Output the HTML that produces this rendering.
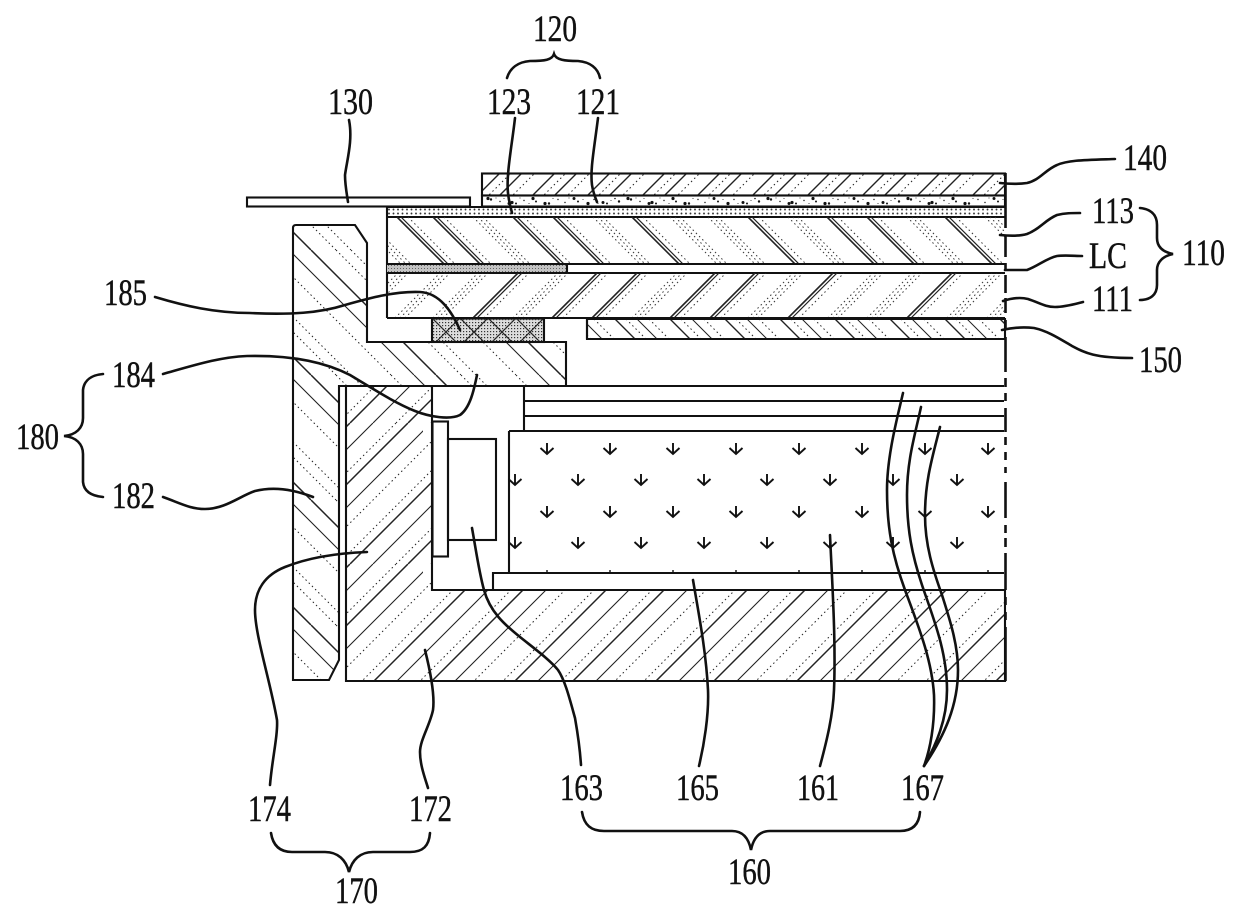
<!DOCTYPE html>
<html>
<head>
<meta charset="utf-8">
<style>
html,body{margin:0;padding:0;background:#fff}
svg{display:block}
text{font-family:"Liberation Serif",serif;font-size:37px;fill:#111;stroke:#111;stroke-width:.45}
.o{fill:none;stroke:#111;stroke-width:2.1}
.l{fill:none;stroke:#111;stroke-width:2.6;stroke-linecap:round}
</style>
</head>
<body>
<svg width="1240" height="916" viewBox="0 0 1240 916" xmlns="http://www.w3.org/2000/svg">
<defs>
  <pattern id="p140" patternUnits="userSpaceOnUse" width="55" height="55" patternTransform="translate(3 0)">
    <g fill="none" stroke="#222">
      <path d="M10 0L-45 55M65 0L10 55" stroke-width="1.4"/>
      <path d="M32 0L-23 55M87 0L32 55" stroke-width="1.4"/>
      <path d="M21 0L-34 55M76 0L21 55" stroke-width="1" stroke-dasharray="1.5 3"/>
      <path d="M45 0L-10 55M100 0L45 55" stroke-width="1" stroke-dasharray="1.5 3"/>
    </g>
  </pattern>
  <pattern id="p150" patternUnits="userSpaceOnUse" width="55" height="55" patternTransform="translate(0 319)">
    <g fill="none" stroke="#222">
      <path d="M10 0L65 55M-45 0L10 55" stroke-width="1.4"/>
      <path d="M32 0L87 55M-23 0L32 55" stroke-width="1"/>
      <path d="M21 0L76 55M-34 0L21 55" stroke-width="1" stroke-dasharray="1.5 3"/>
      <path d="M44 0L99 55M-11 0L44 55" stroke-width="1" stroke-dasharray="1.5 3"/>
    </g>
  </pattern>
  <pattern id="p182" patternUnits="userSpaceOnUse" width="125" height="125" patternTransform="translate(0 0)">
    <g fill="none" stroke="#222">
      <path d="M61 0L186 125M-64 0L61 125" stroke-width="1.5"/>
      <path d="M39 0L164 125M-86 0L39 125" stroke-width="1.1"/>
      <path d="M86 0L211 125M-39 0L86 125" stroke-width="1" stroke-dasharray="1.5 3"/>
      <path d="M101 0L226 125M-24 0L101 125" stroke-width="1" stroke-dasharray="1.5 3"/>
      <path d="M16 0L141 125M-109 0L16 125" stroke-width="1" stroke-dasharray="1.5 3"/>
    </g>
  </pattern>
  <pattern id="p172" patternUnits="userSpaceOnUse" width="141" height="141">
    <g fill="none" stroke="#222">
      <path d="M68 0L-73 141M209 0L68 141" stroke-width="1.5"/>
      <path d="M91 0L-50 141M232 0L91 141" stroke-width="1.1"/>
      <path d="M56 0L-85 141M197 0L56 141" stroke-width="1" stroke-dasharray="1.5 3"/>
      <path d="M126 0L-15 141M267 0L126 141" stroke-width="1.5"/>
      <path d="M149 0L8 141M290 0L149 141" stroke-width="1.1"/>
      <path d="M114 0L-27 141M255 0L114 141" stroke-width="1" stroke-dasharray="1.5 3"/>
      <path d="M27 0L-114 141M168 0L27 141" stroke-width="1" stroke-dasharray="1.5 3"/>
    </g>
  </pattern>
  <pattern id="p123" patternUnits="userSpaceOnUse" width="4.5" height="4" patternTransform="translate(387 207.5)">
    <circle cx="2" cy="2" r="0.95" fill="#333"/>
  </pattern>
  <pattern id="pLC" patternUnits="userSpaceOnUse" width="3" height="3">
    <rect width="3" height="3" fill="#c4c4c4"/>
    <rect x="1" y="1" width="1" height="1" fill="#666"/>
  </pattern>
  <pattern id="p185" patternUnits="userSpaceOnUse" width="28" height="28" patternTransform="translate(432 318)">
    <rect width="28" height="28" fill="#ddd"/>
    <path d="M0 0L28 28M28 0L0 28" stroke="#222" stroke-width="1.2"/>
  </pattern>
  <pattern id="p185d" patternUnits="userSpaceOnUse" width="3" height="3">
    <rect x="1" y="1" width="1.2" height="1.2" fill="#333"/>
  </pattern>
  <pattern id="p121" patternUnits="userSpaceOnUse" width="140" height="11" patternTransform="translate(482 195.5)">
    <g fill="#111">
      <circle cx="6" cy="3" r="1.6"/><circle cx="9" cy="4" r="1.2"/><circle cx="18" cy="6" r=".7"/>
      <circle cx="27" cy="8" r="1.5"/><circle cx="30" cy="7" r="1.6"/><circle cx="34" cy="8" r="1"/>
      <circle cx="42" cy="5" r=".7"/><circle cx="51" cy="3" r="1.6"/><circle cx="54" cy="6" r="1"/>
      <circle cx="63" cy="8" r="1.6"/><circle cx="67" cy="8" r="1.2"/><circle cx="76" cy="4" r=".7"/>
      <circle cx="83" cy="7" r=".7"/><circle cx="92" cy="3" r="1.5"/><circle cx="96" cy="6" r="1"/>
      <circle cx="106" cy="8" r="1.6"/><circle cx="112" cy="4" r=".7"/><circle cx="121" cy="7" r="1.5"/>
      <circle cx="125" cy="8" r="1"/><circle cx="133" cy="3" r=".8"/><circle cx="137" cy="6" r="1.2"/>
      <circle cx="14" cy="2.5" r=".5"/><circle cx="38" cy="2.5" r=".5"/><circle cx="47" cy="8" r=".5"/>
      <circle cx="71" cy="3" r=".5"/><circle cx="87" cy="2.5" r=".5"/><circle cx="101" cy="4" r=".5"/>
      <circle cx="116" cy="8" r=".5"/><circle cx="129" cy="5" r=".5"/><circle cx="22" cy="3" r=".5"/>
    </g>
  </pattern>
  <clipPath id="c113"><rect x="388" y="217" width="617" height="47"/></clipPath>
  <clipPath id="c111"><rect x="388" y="273" width="617" height="45"/></clipPath>
  <g id="s"><path d="M0 217l47 47" stroke="#222" stroke-width="1.6" fill="none"/><path d="M4 217l47 47" stroke="#222" stroke-width="1.2" fill="none"/><path d="M11 217l47 47" stroke="#333" stroke-width="1" stroke-dasharray="1.5 3" fill="none"/></g>
  <g id="d"><path d="M0 217l47 47M5 217l47 47M10 217l47 47" stroke="#333" stroke-width="1" stroke-dasharray="1.5 3" fill="none"/></g>
  <g id="t"><path d="M0 318l45 -45" stroke="#222" stroke-width="1.6" fill="none"/><path d="M4 318l45 -45" stroke="#222" stroke-width="1.2" fill="none"/><path d="M11 318l45 -45" stroke="#333" stroke-width="1" stroke-dasharray="1.5 3" fill="none"/></g>
  <g id="u"><path d="M0 318l45 -45M5 318l45 -45M10 318l45 -45" stroke="#333" stroke-width="1" stroke-dasharray="1.5 3" fill="none"/></g>
  <g id="a"><path d="M0 -6V5M-6.500 -1L0 5L6.500 -1" fill="none" stroke="#111" stroke-width="1.9"/></g>
</defs>

<rect width="1240" height="916" fill="#fff"/>

<!-- frame 182 / 184 -->
<path d="M296 225H355L367 243V342H566V386H339V660L329 680H293V228Q293 225 296 225Z" fill="url(#p182)" stroke="#111" stroke-width="2.1"/>

<!-- bottom chassis 172 -->
<path d="M346 386H432V590H1005V681H346Z" fill="url(#p172)" stroke="#111" stroke-width="2.1"/>

<!-- optical sheets -->
<path class="o" d="M524 386H1004M524 401H1004M524 416H1004M509 431H1004M524 386V431"/>
<path class="o" d="M432 386H524"/>

<!-- LED -->
<rect class="o" x="432.500" y="421.500" width="15.500" height="135"/>
<rect class="o" x="448" y="439" width="48" height="101"/>

<!-- light guide 161 -->
<path class="o" d="M509 573V431"/>
<g>
  <use href="#a" x="547" y="449"/><use href="#a" x="610" y="449"/><use href="#a" x="673" y="449"/><use href="#a" x="736" y="449"/><use href="#a" x="799" y="449"/><use href="#a" x="862" y="449"/><use href="#a" x="925" y="449"/><use href="#a" x="988" y="449"/>
  <use href="#a" x="515" y="480"/><use href="#a" x="578" y="480"/><use href="#a" x="641" y="480"/><use href="#a" x="704" y="480"/><use href="#a" x="767" y="480"/><use href="#a" x="830" y="480"/><use href="#a" x="893" y="480"/><use href="#a" x="957" y="480"/>
  <use href="#a" x="547" y="512"/><use href="#a" x="610" y="512"/><use href="#a" x="673" y="512"/><use href="#a" x="736" y="512"/><use href="#a" x="799" y="512"/><use href="#a" x="862" y="512"/><use href="#a" x="925" y="512"/><use href="#a" x="988" y="512"/>
  <use href="#a" x="515" y="543"/><use href="#a" x="578" y="543"/><use href="#a" x="641" y="543"/><use href="#a" x="704" y="543"/><use href="#a" x="767" y="543"/><use href="#a" x="830" y="543"/><use href="#a" x="893" y="543"/><use href="#a" x="957" y="543"/>
  <path d="M547 570V573M610 570V573M673 570V573M736 570V573M799 570V573M862 570V573M925 570V573M988 570V573" stroke="#111" stroke-width="1.4"/>
</g>
<path class="o" d="M1004 573H493V590"/>

<!-- panel top layers -->
<rect x="482" y="173.500" width="523" height="22" fill="url(#p140)" stroke="#111" stroke-width="2.1"/>
<rect x="482" y="195.500" width="523" height="11" fill="#fff" stroke="#111" stroke-width="2.1"/>
<rect x="482" y="195.500" width="523" height="11" fill="url(#p121)"/>
<rect x="247" y="197.500" width="223" height="9" fill="#fff" stroke="#111" stroke-width="2.1"/>
<rect x="387" y="207" width="618" height="10" fill="url(#p123)"/>
<path class="o" d="M387 207H1005M387 217H1005M387 207V318"/>

<!-- 113 hatch -->
<g clip-path="url(#c113)">
  <use href="#d" x="354"/><use href="#s" x="397"/><use href="#s" x="433"/><use href="#d" x="473"/><use href="#s" x="513"/><use href="#s" x="553"/><use href="#d" x="593"/><use href="#s" x="632"/><use href="#d" x="670"/><use href="#d" x="708"/><use href="#s" x="748"/><use href="#d" x="788"/><use href="#s" x="827"/><use href="#s" x="867"/><use href="#d" x="907"/><use href="#s" x="945"/><use href="#d" x="985"/>
</g>
<!-- LC -->
<rect x="387" y="264" width="180" height="9" fill="url(#pLC)"/>
<path class="o" d="M387 264H1005M387 273H1005M567 264V273"/>
<!-- 111 hatch -->
<g clip-path="url(#c111)">
  <use href="#u" x="353"/><use href="#u" x="395"/><use href="#u" x="433"/><use href="#t" x="473"/><use href="#u" x="513"/><use href="#t" x="552"/><use href="#t" x="592"/><use href="#u" x="632"/><use href="#t" x="670"/><use href="#t" x="710"/><use href="#u" x="748"/><use href="#t" x="788"/><use href="#u" x="828"/><use href="#u" x="867"/><use href="#t" x="907"/><use href="#u" x="947"/><use href="#u" x="987"/>
</g>
<path class="o" d="M387 318H1005"/>

<!-- 185 -->
<rect x="432" y="318.500" width="112" height="23.500" fill="url(#p185)" stroke="#111" stroke-width="2.1"/>
<rect x="433" y="319" width="110" height="22" fill="url(#p185d)"/>
<!-- 150 -->
<path d="M587 319H1005V339H587Z" fill="url(#p150)" stroke="#111" stroke-width="2.1"/>
<path d="M587 319V339" class="o"/>

<!-- right dashed border -->
<rect x="1000" y="340" width="5" height="45" fill="#fff"/>
<path d="M1005.500 173V228M1005.500 235V257M1005.500 263V270M1005.500 275V293M1005.500 298V313M1005.500 320V330M1005.500 337V372M1005.500 378V387M1005.500 393V401M1005.500 408V432M1005.500 437V445M1005.500 452V460M1005.500 467V473M1005.500 482V518M1005.500 525V533M1005.500 538V547M1005.500 553V590M1005.500 597V605M1005.500 612V620M1005.500 627V681" fill="none" stroke="#111" stroke-width="2.6"/>

<!-- leaders -->
<path class="l" d="M349 120C353 140 347 160 345 175C345 185 347 195 348 202"/>
<path class="l" d="M515 118C512 145 506 175 508 193C509 203 511 208 512 213"/>
<path class="l" d="M598 118C594 150 590 170 592 185C593 192 595 197 597 202"/>
<path class="l" d="M1000 183C1010 184 1020 184 1027 183C1040 180 1045 170 1057 165C1068 160 1085 160 1115 159"/>
<path class="l" d="M1000 235C1010 236 1020 236 1027 234C1040 229 1045 220 1057 215C1065 213 1072 213 1080 213"/>
<path class="l" d="M1005 270C1015 270 1022 270 1027 270C1038 266 1047 258 1057 256C1065 255 1075 256 1082 256"/>
<path class="l" d="M1003 301C1012 298 1020 297 1028 299C1040 303 1045 307 1055 307C1065 307 1075 304 1083 302"/>
<path class="l" d="M1002 330C1015 327 1025 327 1034 328C1048 331 1060 339 1072 346C1085 353 1095 358 1132 358"/>
<path class="l" d="M155 297C185 306 215 313 250 313C290 315 320 313 345 305C370 298 395 291 420 292C440 293 452 312 460 330"/>
<path class="l" d="M163 374C195 365 220 357 247 356C290 355 325 362 350 375C375 390 395 403 415 411C430 417 450 420 460 415C470 408 474 390 477 375"/>
<path class="l" d="M163 497C180 503 190 509 205 509C225 509 240 496 255 491C275 486 295 490 313 497"/>
<path class="l" d="M367 552C340 553 310 557 285 567C265 575 255 590 255 610C255 635 270 680 277 720C278 735 272 760 270 785"/>
<path class="l" d="M425 650C430 670 435 695 433 710C430 725 420 740 420 752C420 765 425 778 428 788"/>
<path class="l" d="M472 528C476 550 479 572 484 590C490 612 505 625 520 637C535 649 550 660 558 670C565 680 570 700 575 718C578 735 580 750 581 765"/>
<path class="l" d="M693 580C698 610 706 650 708 690C709 715 704 745 699 766"/>
<path class="l" d="M830 535C832 580 836 640 834 690C833 715 827 740 820 766"/>
<path class="l" d="M903 393C898 415 887 455 887 490C887 530 893 557 905 590C918 625 932 660 934 695C935 725 930 750 924 766"/>
<path class="l" d="M921 407C915 435 907 460 907 495C907 530 912 555 922 585C932 615 947 650 947 690C947 720 936 745 924 766"/>
<path class="l" d="M940 427C933 455 925 480 925 515C925 545 933 570 942 595C950 620 958 645 958 670C958 705 945 735 924 766"/>

<!-- braces -->
<path class="l" d="M507 78C510 68 518 62 530 61C545 61 552 60 554 54C556 60 565 61 578 61C590 62 598 68 600 78"/>
<path class="l" d="M1140 208C1150 209 1157 214 1157 225V238C1157 247 1163 252 1173 254C1163 256 1157 262 1157 270V285C1157 295 1150 300 1140 300"/>
<path class="l" d="M103 374C92 375 84 380 83 390V418C83 428 76 435 64 436C76 437 83 444 83 454V482C84 492 92 496 103 497"/>
<path class="l" d="M271 833C273 846 280 852 292 852H325C338 852 346 860 349 872C352 860 360 852 373 852H410C423 852 429 846 430 833"/>
<path class="l" d="M582 812C584 825 591 831 604 831H732C744 831 749 840 751 850C753 840 758 831 770 831H900C912 831 919 825 920 812"/>

<!-- labels -->
<text x="533" y="41" textLength="44" lengthAdjust="spacingAndGlyphs">120</text>
<text x="487" y="114" textLength="44" lengthAdjust="spacingAndGlyphs">123</text>
<text x="576" y="114" textLength="44" lengthAdjust="spacingAndGlyphs">121</text>
<text x="328" y="114" textLength="45" lengthAdjust="spacingAndGlyphs">130</text>
<text x="1123" y="170" textLength="44" lengthAdjust="spacingAndGlyphs">140</text>
<text x="1092" y="223" textLength="42" lengthAdjust="spacingAndGlyphs">113</text>
<text x="1089" y="268" textLength="38" lengthAdjust="spacingAndGlyphs">LC</text>
<text x="1092" y="311" textLength="41" lengthAdjust="spacingAndGlyphs">111</text>
<text x="1182" y="265" textLength="43" lengthAdjust="spacingAndGlyphs">110</text>
<text x="1139" y="372" textLength="43" lengthAdjust="spacingAndGlyphs">150</text>
<text x="104" y="305" textLength="43" lengthAdjust="spacingAndGlyphs">185</text>
<text x="112" y="387" textLength="43" lengthAdjust="spacingAndGlyphs">184</text>
<text x="16" y="449" textLength="43" lengthAdjust="spacingAndGlyphs">180</text>
<text x="112" y="508" textLength="43" lengthAdjust="spacingAndGlyphs">182</text>
<text x="248" y="821" textLength="43" lengthAdjust="spacingAndGlyphs">174</text>
<text x="409" y="821" textLength="43" lengthAdjust="spacingAndGlyphs">172</text>
<text x="335" y="903" textLength="43" lengthAdjust="spacingAndGlyphs">170</text>
<text x="560" y="800" textLength="43" lengthAdjust="spacingAndGlyphs">163</text>
<text x="676" y="800" textLength="43" lengthAdjust="spacingAndGlyphs">165</text>
<text x="797" y="800" textLength="42" lengthAdjust="spacingAndGlyphs">161</text>
<text x="901" y="800" textLength="43" lengthAdjust="spacingAndGlyphs">167</text>
<text x="728" y="884" textLength="43" lengthAdjust="spacingAndGlyphs">160</text>
</svg>
</body>
</html>
